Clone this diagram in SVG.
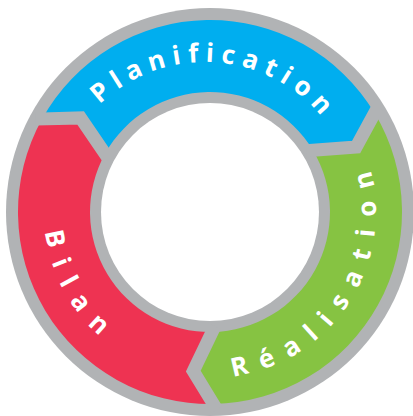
<svg xmlns="http://www.w3.org/2000/svg" width="413" height="416" viewBox="0 0 413 416">
  <defs>
    <style>
      .sep { fill: none; stroke: #B1B3B5; stroke-width: 13; stroke-linecap: square; stroke-linejoin: miter; }
      .lbl { font-family: "Open Sans", "Liberation Sans", sans-serif; font-weight: 700; font-size: 26px; fill: #FFFFFF; text-anchor: middle; }
      .tight { letter-spacing: 7px; }
      .wide { letter-spacing: 13.5px; }
    </style>
    <path id="tp-plan" d="M 53,214 A 152 152 0 0 1 357,214"/>
    <path id="tp-real" d="M 114.79,347.98 A 166 166 0 0 0 327.38,94.62"/>
    <path id="tp-bilan" d="M 82.84,105.30 A 166 166 0 0 0 210,378"/>
  </defs>
  <rect width="413" height="416" fill="#FFFFFF"/>
  <circle id="ring" cx="210" cy="212" r="204" fill="#B1B3B5"/>
  <g id="planification">
    <path d="M 42.07,118.92 A 192 192 0 0 1 374.58,113.11 L 356.17,146.92 L 312.86,150.20 A 120 120 0 0 0 105.05,153.82 L 80.56,117.95 Z" fill="#00AEEF"/>
    <text class="lbl tight"><textPath href="#tp-plan" startOffset="250">Planification</textPath></text>
  </g>
  <g id="realisation">
    <path d="M 374.58,113.11 A 192 192 0 0 1 213.35,403.97 L 193.28,371.12 L 212.09,331.98 A 120 120 0 0 0 312.86,150.20 L 356.17,146.92 Z" fill="#86C342"/>
    <text class="lbl wide"><textPath href="#tp-real" startOffset="271">Réalisation</textPath></text>
  </g>
  <g id="bilan">
    <path d="M 213.35,403.97 A 192 192 0 0 1 42.07,118.92 L 80.56,117.95 L 105.05,153.82 A 120 120 0 0 0 212.09,331.98 L 193.28,371.12 Z" fill="#EE3352"/>
    <text class="lbl wide"><textPath href="#tp-bilan" startOffset="202.3">Bilan</textPath></text>
  </g>
  <g id="connectors">
    <polyline class="sep" points="42.07,118.92 80.56,117.95 105.05,153.82"/>
    <polyline class="sep" points="374.58,113.11 356.17,146.92 312.86,150.20"/>
    <polyline class="sep" points="213.35,403.97 193.28,371.12 212.09,331.98"/>
  </g>
  <circle id="hole" cx="210" cy="212" r="109" fill="#FFFFFF"/>
</svg>
